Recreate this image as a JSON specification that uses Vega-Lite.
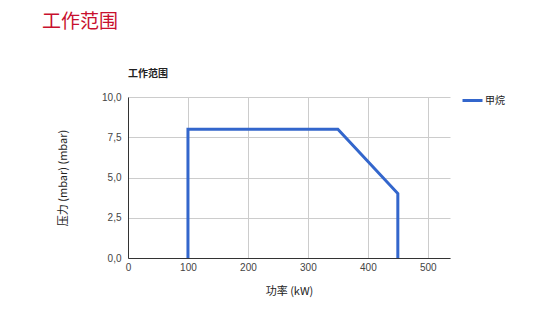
{
  "$schema": "https://vega.github.io/schema/vega-lite/v6.json",
  "padding": {"left": 42, "top": 13, "right": 5, "bottom": 5},
  "background": "white",
  "title": {
    "text": "工作范围",
    "anchor": "start",
    "frame": "group",
    "color": "#c8102e",
    "font": "Noto Sans CJK SC",
    "fontSize": 19,
    "fontWeight": "normal",
    "dx": -86,
    "offset": 37
  },
  "config": {
    "locale": {
      "number": {"decimal": ",", "thousands": ".", "grouping": [3], "currency": ["", ""]}
    },
    "view": {"stroke": null},
    "font": "Liberation Sans",
    "axis": {
      "labelFont": "Liberation Sans",
      "labelFontSize": 10,
      "labelColor": "#444444",
      "labelFlush": false,
      "titleFont": "Noto Sans CJK SC",
      "titleFontSize": 11,
      "titleFontWeight": "normal",
      "titleColor": "#222222",
      "gridColor": "#cccccc",
      "gridWidth": 1,
      "domainColor": "#333333",
      "domainWidth": 1,
      "ticks": false
    }
  },
  "vconcat": [
    {
      "width": 322,
      "height": 161,
      "title": {
        "text": "工作范围",
        "anchor": "start",
        "frame": "group",
        "font": "Noto Sans CJK SC",
        "fontSize": 10,
        "fontWeight": "bold",
        "color": "#222222",
        "offset": 13
      },
      "data": {
        "values": [
          {"seq": 1, "gas": "甲烷", "power": 100, "pressure": 0},
          {"seq": 2, "gas": "甲烷", "power": 100, "pressure": 8},
          {"seq": 3, "gas": "甲烷", "power": 350, "pressure": 8},
          {"seq": 4, "gas": "甲烷", "power": 450, "pressure": 4},
          {"seq": 5, "gas": "甲烷", "power": 450, "pressure": 0}
        ]
      },
      "mark": {"type": "line", "strokeWidth": 3, "strokeJoin": "miter"},
      "encoding": {
        "x": {
          "field": "power",
          "type": "quantitative",
          "scale": {"domain": [0, 537], "nice": false, "zero": true},
          "axis": {
            "title": "功率 (kW)",
            "values": [0, 100, 200, 300, 400, 500],
            "labelPadding": 4,
            "titlePadding": 13
          }
        },
        "y": {
          "field": "pressure",
          "type": "quantitative",
          "scale": {"domain": [0, 10], "nice": false},
          "axis": {
            "title": "压力 (mbar) (mbar)",
            "values": [0, 2.5, 5, 7.5, 10],
            "format": ".1f",
            "labelPadding": 7,
            "titlePadding": 33
          }
        },
        "order": {"field": "seq", "type": "quantitative"},
        "color": {
          "field": "gas",
          "type": "nominal",
          "scale": {"range": ["#3366cc"]},
          "legend": {
            "title": null,
            "orient": "none",
            "legendX": 333,
            "legendY": -8,
            "padding": 0,
            "symbolType": "stroke",
            "symbolSize": 400,
            "symbolStrokeWidth": 3,
            "labelFont": "Noto Sans CJK SC",
            "labelFontSize": 10,
            "labelOffset": 1,
            "labelColor": "#222222"
          }
        }
      }
    }
  ]
}
